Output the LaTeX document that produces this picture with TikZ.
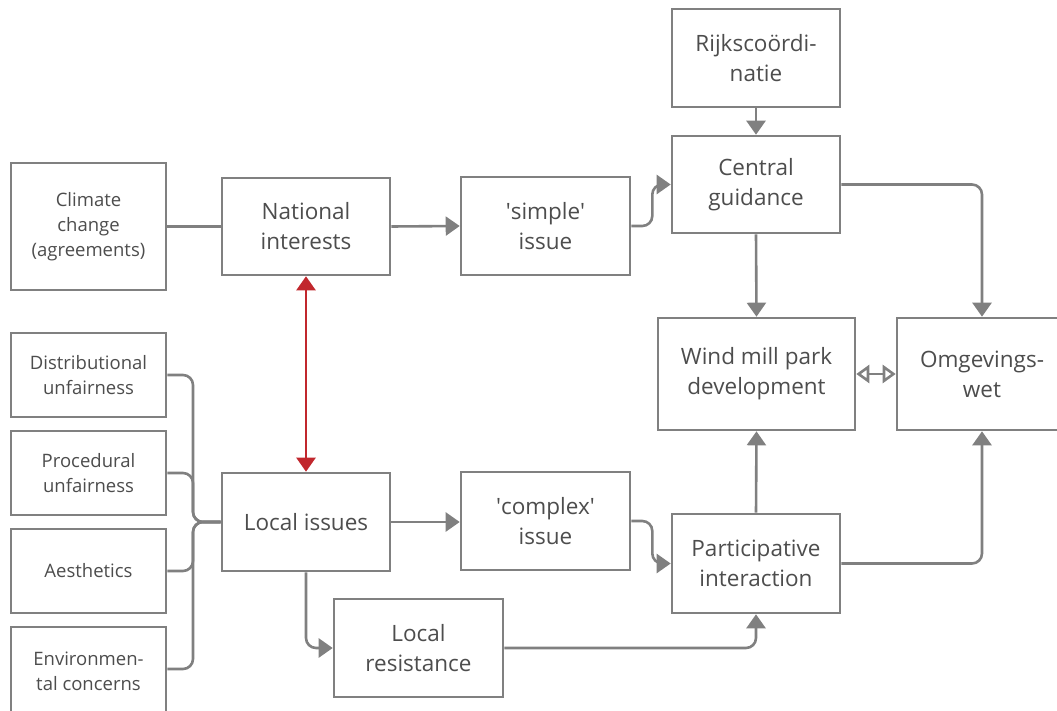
\documentclass[tikz,border=0pt]{standalone}
\usepackage{fontspec}
\setmainfont{Open Sans}
\usetikzlibrary{arrows.meta}
\definecolor{linegray}{HTML}{808080}
\definecolor{textgray}{HTML}{4D4D4D}
\definecolor{linkred}{HTML}{C1272D}
\begin{document}
\begin{tikzpicture}[x=1pt,y=-1pt,
  box/.style={draw=linegray, line width=2.6pt, fill=white, align=center,
    text=textgray, inner sep=2pt, font=\fontsize{22.5}{30}\selectfont},
  smallbox/.style={box, font=\fontsize{18.5}{25}\selectfont},
  conn/.style={draw=linegray, line width=2.6pt, rounded corners=10pt},
  arr/.style={conn, -{Triangle[length=14pt,width=19pt]}},
  openarr/.style={draw=linegray, line width=2.6pt,
    {Triangle[open,length=13pt,width=18pt]}-{Triangle[open,length=13pt,width=18pt]}},
  redarr/.style={draw=linkred, line width=2.4pt,
    {Triangle[length=14pt,width=19pt]}-{Triangle[length=14pt,width=19pt]}}]
\useasboundingbox (0,0) rectangle (1057,711);
\clip (0,0) rectangle (1057,711);

% boxes
\node[smallbox, minimum width=155pt, minimum height=127pt] (clim) at (88.5,226.5) {Climate\\change\\(agreements)};
\node[box, minimum width=168pt, minimum height=97pt] (nat) at (306,226.5) {National\\interests};
\node[box, minimum width=169pt, minimum height=98pt] (simp) at (545.5,226) {\textquotesingle simple\textquotesingle\\issue};
\node[box, minimum width=168pt, minimum height=98pt] (rijk) at (756,58) {Rijkscoördi-\\natie};
\node[box, minimum width=168pt, minimum height=97pt] (cent) at (756,184.5) {Central\\guidance};
\node[box, minimum width=197pt, minimum height=112pt] (wind) at (756.5,374) {Wind mill park\\development};
\node[box, minimum width=170pt, minimum height=112pt] (omg) at (982,374) {Omgevings-\\wet};

\node[smallbox, minimum width=155pt, minimum height=84pt] (dist) at (88.5,375) {Distributional\\unfairness};
\node[smallbox, minimum width=155pt, minimum height=84pt] (proc) at (88.5,473) {Procedural\\unfairness};
\node[smallbox, minimum width=155pt, minimum height=84pt] (aest) at (88.5,571) {Aesthetics};
\node[smallbox, minimum width=155pt, minimum height=88pt] (env) at (88.5,671) {Environmen-\\tal concerns};

\node[box, minimum width=168pt, minimum height=98pt] (loc) at (306,522) {Local issues};
\node[box, minimum width=169pt, minimum height=98pt] (comp) at (545.5,521) {\textquotesingle complex\textquotesingle\\issue};
\node[box, minimum width=168pt, minimum height=99pt] (part) at (756,563.5) {Participative\\interaction};
\node[box, minimum width=169pt, minimum height=98pt] (res) at (418.5,648) {Local\\resistance};

\coordinate (jn) at (193,522);

% connectors
\draw[conn] (clim.east) -- (nat.west);
\draw[arr] (nat.east) -- (simp.west);
\draw[arr] (simp.east) -- ++(21,0) |- (cent.west);
\draw[arr] (rijk.south) -- (cent.north);
\draw[arr] (cent.south) -- (wind.north);
\draw[arr] (cent.east) -| (omg.north);
\draw[openarr] (wind.east) -- (omg.west);

\draw[conn] (dist.east) -| (jn) -- (loc.west);
\draw[conn] (proc.east) -| (jn) -- (loc.west);
\draw[conn] (aest.east) -| (jn) -- (loc.west);
\draw[conn] (env.east |- 669,669) -| (jn) -- (loc.west);

\draw[arr] (loc.east) -- (comp.west |- loc.east);
\draw[arr] (comp.east) -- ++(21,0) |- (part.west);
\draw[arr] (part.north) -- (wind.south);
\draw[arr] (part.east) -| (omg.south);
\draw[arr] (loc.south) |- (res.west);
\draw[arr] (res.east) -| (part.south);

\draw[redarr] (nat.south) -- (loc.north);
\end{tikzpicture}
\end{document}
